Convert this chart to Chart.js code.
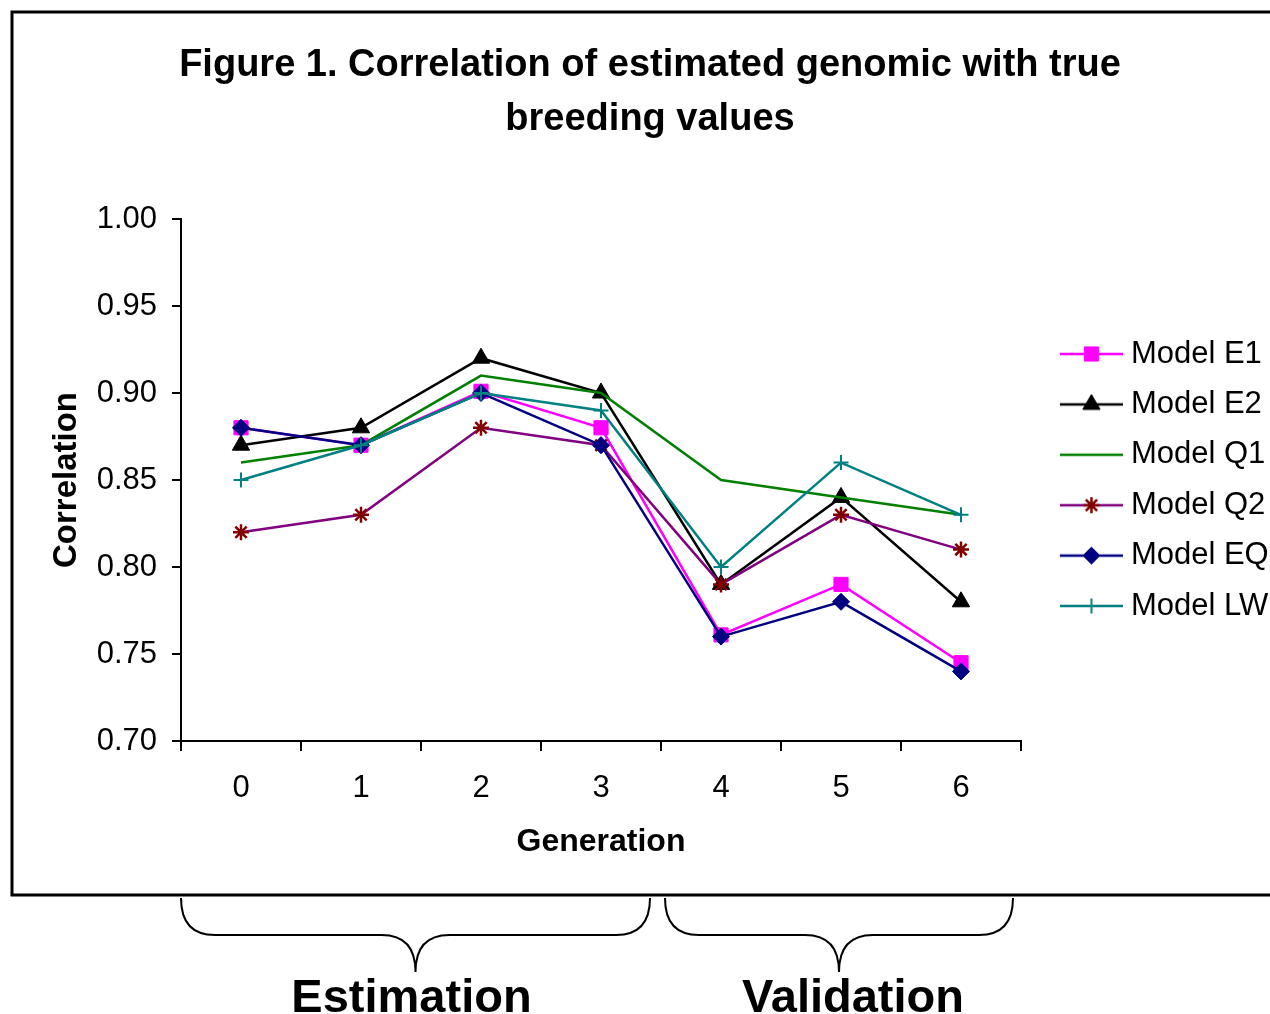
<!DOCTYPE html>
<html>
<head>
<meta charset="utf-8">
<title>Correlation of estimated genomic with true breeding values</title>
<script src="https://cdn.jsdelivr.net/npm/chart.js@4.4.0/dist/chart.umd.min.js"></script>
<style>
  html, body { margin: 0; padding: 0; background: #fff; }
  canvas { display: block; }
</style>
</head>
<body>
<canvas id="corrChart" width="1270" height="1014"></canvas>
<script>
// font used everywhere (Arial look-alike)
const FONT = '"Liberation Sans", Arial, sans-serif';

// ---- data ----
const generations = ['0', '1', '2', '3', '4', '5', '6'];
const modelE1 = [0.880, 0.870, 0.901, 0.880, 0.761, 0.790, 0.745];
const modelE2 = [0.870, 0.880, 0.920, 0.900, 0.790, 0.840, 0.780];
const modelQ1 = [0.860, 0.870, 0.910, 0.900, 0.850, 0.840, 0.830];
const modelQ2 = [0.820, 0.830, 0.880, 0.870, 0.790, 0.830, 0.810];
const modelEQ = [0.880, 0.870, 0.900, 0.870, 0.760, 0.780, 0.740];
const modelLW = [0.850, 0.870, 0.900, 0.890, 0.800, 0.860, 0.830];
const seriesNames = ['Model E1', 'Model E2', 'Model Q1', 'Model Q2', 'Model EQ', 'Model LW'];
const seriesValues = [modelE1, modelE2, modelQ1, modelQ2, modelEQ, modelLW];
const yMin = 0.70, yMax = 1.00, yStep = 0.05;

// the two groups marked with braces under the chart
const groupLabels = ['Estimation', 'Validation'];
const groupFirst = [0, 4];
const groupLast = [3, 6];

// ---- styles (Excel 2003 default palette) ----
const lineColors = ['#ff00ff', '#000000', '#008000', '#800080', '#000080', '#008080'];
const markerColors = ['#ff00ff', '#000000', '#008000', '#800000', '#000080', '#008080'];
const markerStyles = ['rect', 'triangle', false, 'star', 'rectRot', 'cross'];
const markerRadius = [10, 10, 0, 8, 8.5, 7.5];
const markerBorder = [1, 1, 0, 2.5, 1, 2];

// line + marker sample used as the legend symbol
function legendSymbol(i) {
    const c = document.createElement('canvas');
    c.width = 90;
    c.height = 32;
    const g = c.getContext('2d');
    g.strokeStyle = lineColors[i];
    g.lineWidth = 2.5;
    g.beginPath();
    g.moveTo(27, 16);
    g.lineTo(90, 16);
    g.stroke();
    if (markerStyles[i]) {
        g.fillStyle = markerColors[i];
        g.strokeStyle = markerColors[i];
        g.lineWidth = markerBorder[i];
        Chart.helpers.drawPoint(g, {
            pointStyle: markerStyles[i],
            radius: markerRadius[i],
            rotation: 0,
            borderWidth: markerBorder[i]
        }, 58.5, 16);
    }
    return c;
}

// curly brace lying on its back, tip pointing down
function drawBrace(ctx, left, right, yTop, yMid, yTip) {
    const mid = (left + right) / 2;
    const r = 34;
    ctx.beginPath();
    ctx.moveTo(left, yTop);
    ctx.quadraticCurveTo(left, yMid, left + r, yMid);
    ctx.lineTo(mid - r, yMid);
    ctx.quadraticCurveTo(mid, yMid, mid, yTip);
    ctx.moveTo(right, yTop);
    ctx.quadraticCurveTo(right, yMid, right - r, yMid);
    ctx.lineTo(mid + r, yMid);
    ctx.quadraticCurveTo(mid, yMid, mid, yTip);
    ctx.stroke();
}

// white page, outer frame, braces and group names
const decorPlugin = {
    id: 'decor',
    beforeDraw(chart) {
        const ctx = chart.ctx;
        ctx.save();
        ctx.fillStyle = '#fff';
        ctx.fillRect(0, 0, chart.width, chart.height);
        ctx.restore();
    },
    afterDraw(chart) {
        const ctx = chart.ctx;
        const x = chart.scales.x;
        const half = (x.getPixelForValue(1) - x.getPixelForValue(0)) / 2;
        ctx.save();
        ctx.strokeStyle = '#000';
        ctx.lineWidth = 3;
        ctx.strokeRect(12, 12, 1275, 883);

        ctx.lineWidth = 2;
        const trims = [[0, 11], [4, 8]];
        const textShift = [-4, 14];
        ctx.fillStyle = '#000';
        ctx.font = 'bold 47px ' + FONT;
        ctx.textAlign = 'center';
        ctx.textBaseline = 'alphabetic';
        groupLabels.forEach((label, i) => {
            const left = x.getPixelForValue(groupFirst[i]) - half + trims[i][0];
            const right = x.getPixelForValue(groupLast[i]) + half - trims[i][1];
            drawBrace(ctx, left, right, 898, 935, 972);
            ctx.fillText(label, (left + right) / 2 + textShift[i], 1012);
        });
        ctx.restore();
    }
};

const datasets = seriesNames.map((name, i) => ({
    label: name,
    data: seriesValues[i],
    borderColor: lineColors[i],
    backgroundColor: markerColors[i],
    borderWidth: 2.5,
    pointStyle: markerStyles[i],
    pointRadius: markerRadius[i],
    pointHoverRadius: markerRadius[i],
    pointBackgroundColor: markerColors[i],
    pointBorderColor: markerColors[i],
    pointBorderWidth: markerBorder[i],
    tension: 0,
    fill: false,
    order: seriesNames.length - 1 - i // later series on top, like Excel
}));

new Chart(document.getElementById('corrChart'), {
    type: 'line',
    data: { labels: generations, datasets: datasets },
    plugins: [decorPlugin],
    options: {
        responsive: false,
        animation: false,
        devicePixelRatio: 1,
        events: [],
        layout: { padding: { left: 30, right: 0, top: 20, bottom: 0 } },
        plugins: {
            title: {
                display: true,
                text: ['Figure 1. Correlation of estimated genomic with true', 'breeding values'],
                color: '#000',
                font: { family: FONT, size: 38, weight: 'bold', lineHeight: 54 / 38 },
                padding: { top: 19, bottom: 72 }
            },
            legend: {
                display: true,
                position: 'right',
                align: 'center',
                fullSize: false, // centre the entries on the plot area
                maxWidth: 249,
                labels: {
                    color: '#000',
                    font: { family: FONT, size: 31 },
                    usePointStyle: true,
                    pointStyleWidth: 75,
                    padding: 19.4,
                    generateLabels: chart => chart.data.datasets.map((ds, i) => ({
                        text: ds.label,
                        pointStyle: legendSymbol(i),
                        fillStyle: lineColors[i],
                        strokeStyle: lineColors[i],
                        lineWidth: 0,
                        hidden: false,
                        datasetIndex: i
                    }))
                }
            },
            tooltip: { enabled: false }
        },
        scales: {
            x: {
                type: 'category',
                offset: true,
                grid: {
                    offset: true,
                    drawOnChartArea: false,
                    drawTicks: true,
                    tickLength: 10,
                    color: '#000',
                    lineWidth: 2
                },
                border: { display: true, color: '#000', width: 2 },
                ticks: { color: '#000', font: { family: FONT, size: 31 }, padding: 19, maxRotation: 0 },
                title: {
                    display: true,
                    text: 'Generation',
                    color: '#000',
                    font: { family: FONT, size: 32, weight: 'bold' },
                    padding: { top: 0, bottom: 153 }
                },
                afterFit(scale) { scale.height = 273; }
            },
            y: {
                min: yMin,
                max: yMax,
                grid: {
                    drawOnChartArea: false,
                    drawTicks: true,
                    tickLength: 9,
                    color: '#000',
                    lineWidth: 2
                },
                border: { display: true, color: '#000', width: 2 },
                ticks: {
                    stepSize: yStep,
                    color: '#000',
                    font: { family: FONT, size: 31 },
                    padding: 15,
                    callback: value => Number(value).toFixed(2)
                },
                title: {
                    display: true,
                    text: 'Correlation',
                    color: '#000',
                    font: { family: FONT, size: 33, weight: 'bold' },
                    padding: { top: 17, bottom: 0 }
                },
                afterFit(scale) { scale.width = 151; }
            }
        }
    }
});
</script>
</body>
</html>
